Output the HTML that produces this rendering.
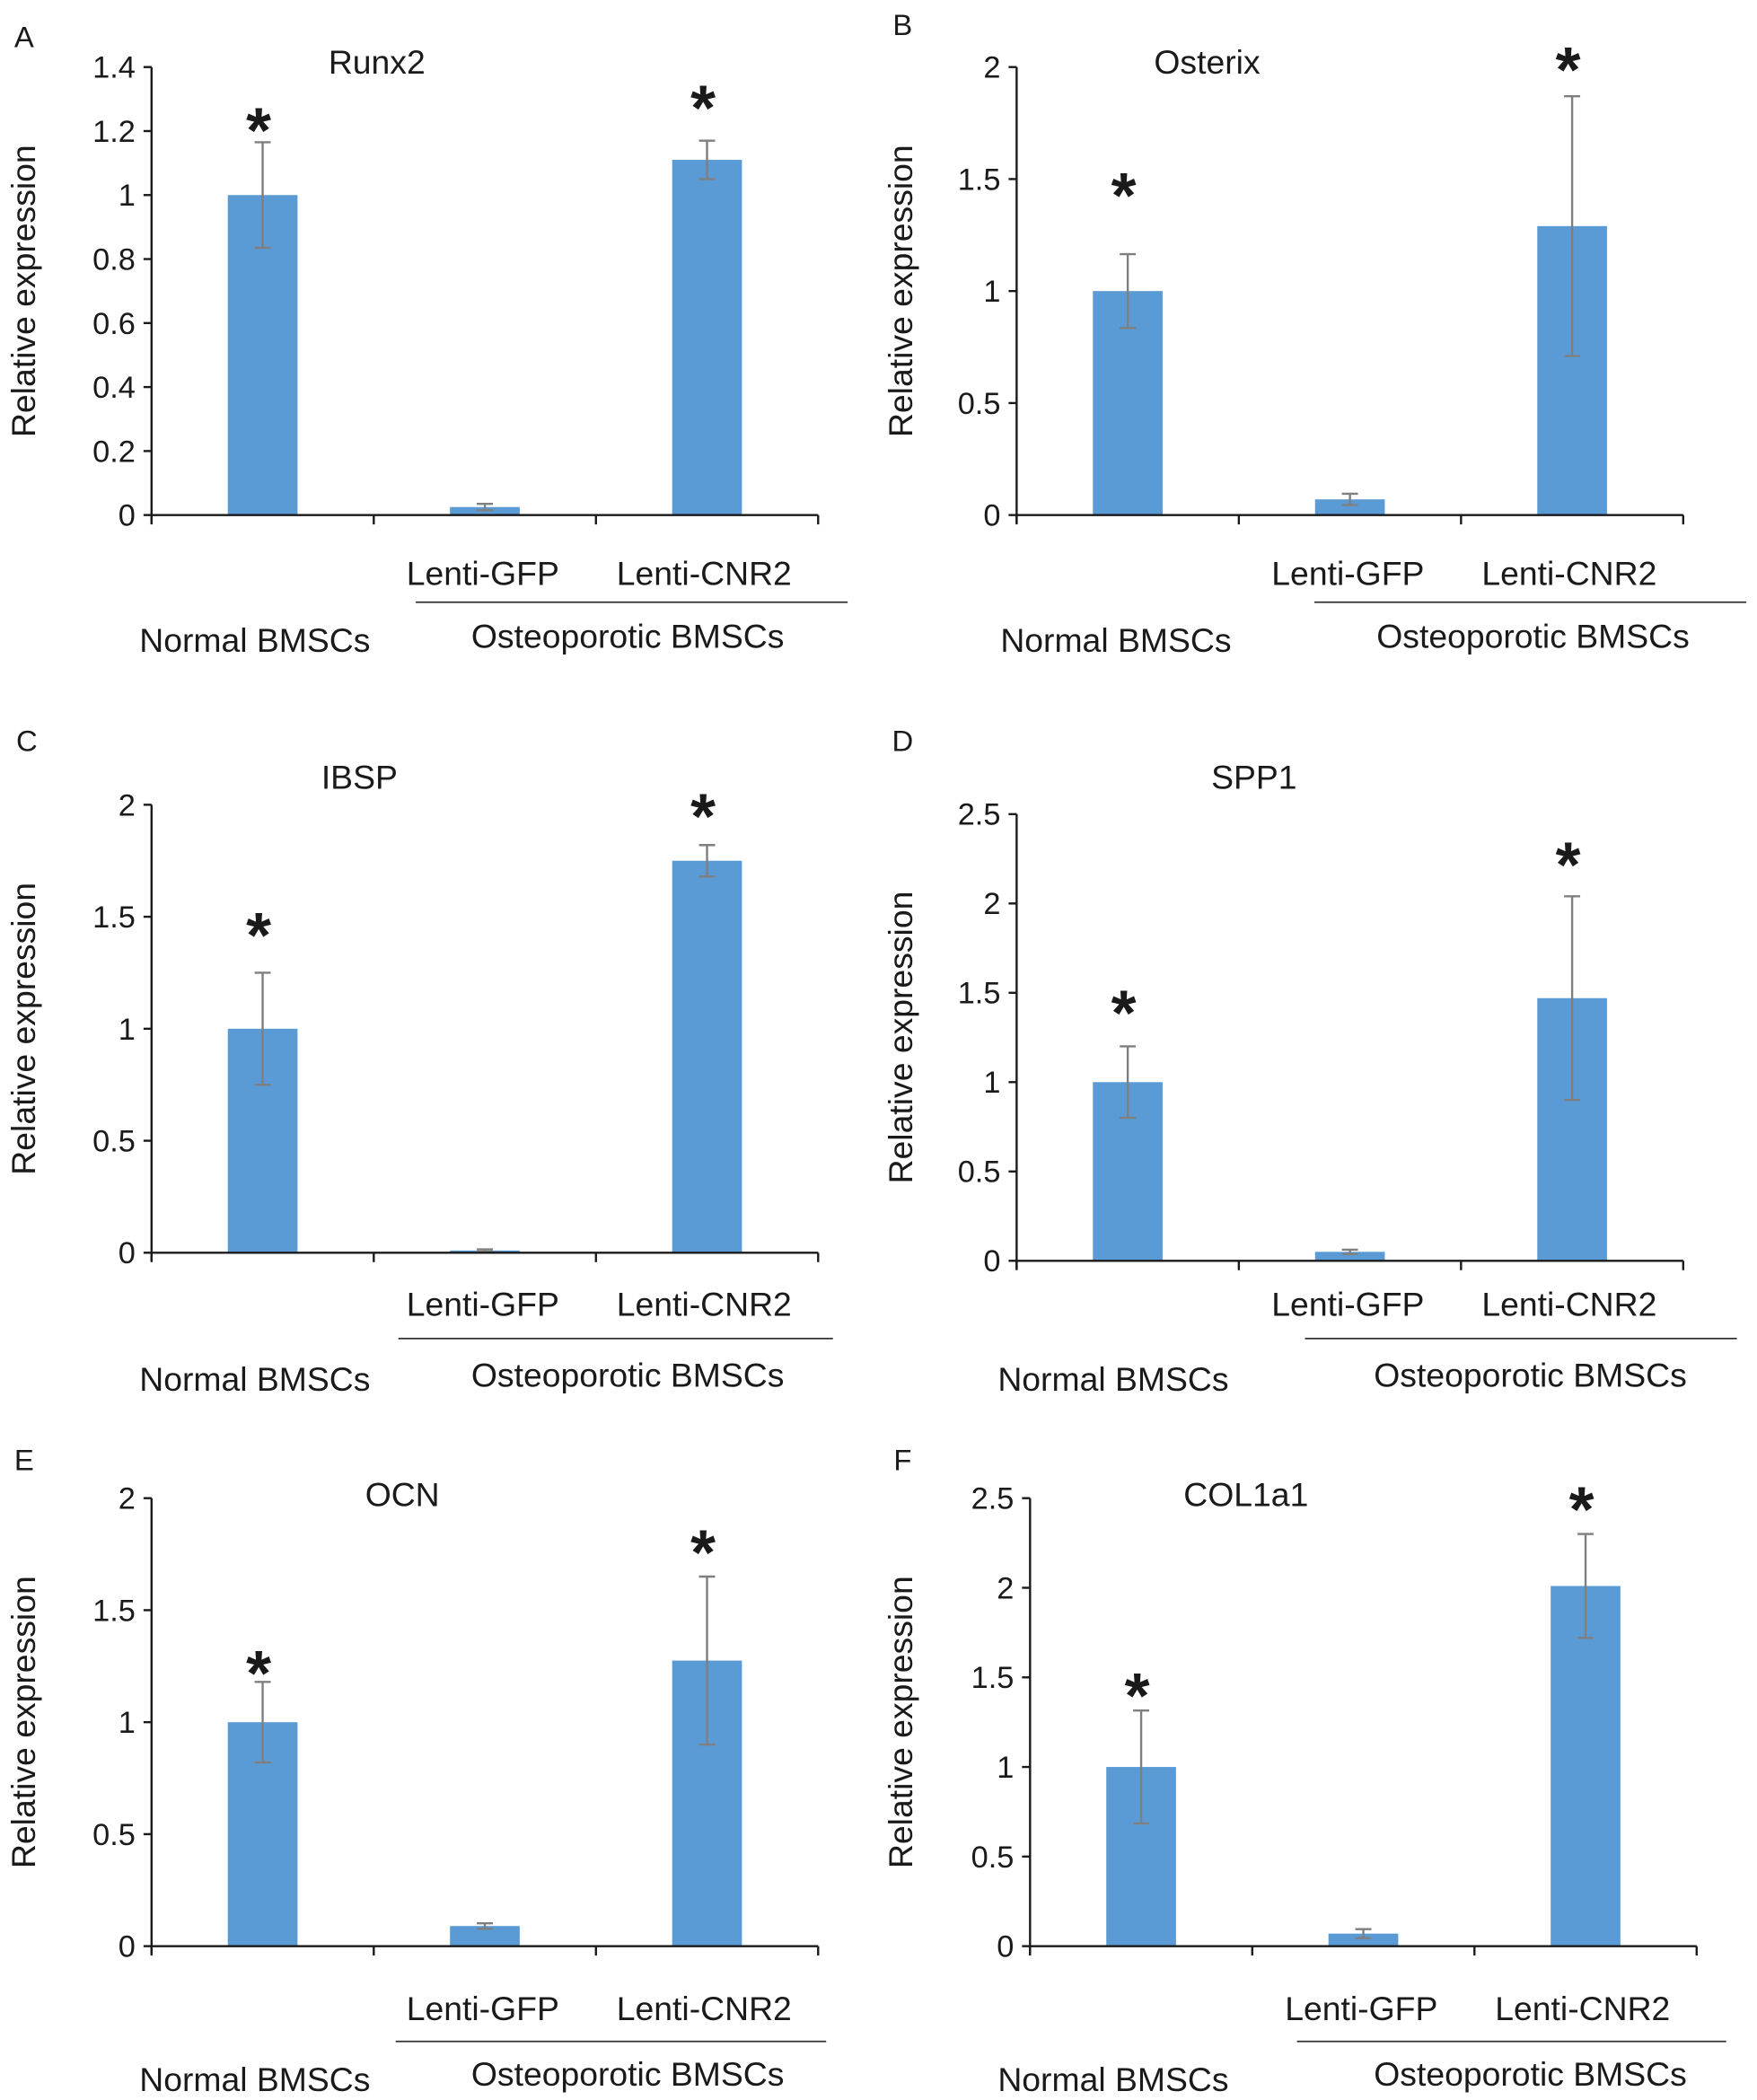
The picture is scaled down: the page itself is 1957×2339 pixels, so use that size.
<!DOCTYPE html>
<html><head><meta charset="utf-8">
<style>html,body{margin:0;padding:0;background:#fff}svg{display:block}text{font-family:"Liberation Sans",Arial,sans-serif;fill:#1a1a1a}</style>
</head><body>
<svg id="fig" xmlns="http://www.w3.org/2000/svg" width="1957" height="2339" viewBox="0 0 1310 1565.7"></svg>
<script>
const categories = ["Normal BMSCs", "Lenti-GFP", "Lenti-CNR2"];
const genes = ["Runx2", "Osterix", "IBSP", "SPP1", "OCN", "COL1a1"];
const panelLetters = ["A", "B", "C", "D", "E", "F"];
const meanRunx2 = [1.0, 0.025, 1.11];
const errRunx2 = [0.165, 0.01, 0.06];
const meanOsterix = [1.0, 0.07, 1.29];
const errOsterix = [0.165, 0.025, 0.58];
const meanIBSP = [1.0, 0.01, 1.75];
const errIBSP = [0.25, 0.005, 0.07];
const meanSPP1 = [1.0, 0.05, 1.47];
const errSPP1 = [0.2, 0.012, 0.57];
const meanOCN = [1.0, 0.09, 1.275];
const errOCN = [0.18, 0.012, 0.375];
const meanCOL = [1.0, 0.07, 2.01];
const errCOL = [0.315, 0.025, 0.29];
const yMaxes = [1.4, 2, 2, 2.5, 2, 2.5];
const yStepsA = ["0", "0.2", "0.4", "0.6", "0.8", "1", "1.2", "1.4"];
const yTicks2 = ["0", "0.5", "1", "1.5", "2"];
const yTicks25 = ["0", "0.5", "1", "1.5", "2", "2.5"];
const tickSets = [yStepsA, yTicks2, yTicks2, yTicks25, yTicks2, yTicks25];
const starValues = [[1.26, null, 1.33], [1.51, null, 2.07], [1.50, null, 2.03], [1.49, null, 2.32], [1.30, null, 1.84], [1.50, null, 2.54]];
const means = [meanRunx2, meanOsterix, meanIBSP, meanSPP1, meanOCN, meanCOL];
const errs = [errRunx2, errOsterix, errIBSP, errSPP1, errOCN, errCOL];

const layouts = [
 {x0:113,yTop:50,yZero:384,lx:18,ly:27,tx:281,ty:47,lenY:427,lineY:449,l1:310,l2:632,nx:190,ny:477,ox:468,oy:474,ylx:18},
 {x0:758,yTop:50,yZero:384,lx:673,ly:18,tx:900,ty:47,lenY:427,lineY:449,l1:980,l2:1302,nx:832,ny:477,ox:1143,oy:474,ylx:672},
 {x0:113,yTop:600,yZero:934,lx:20,ly:552,tx:268,ty:580,lenY:972,lineY:998,l1:297,l2:621,nx:190,ny:1028,ox:468,oy:1025,ylx:18},
 {x0:758,yTop:607,yZero:940,lx:673,ly:552,tx:935,ty:580,lenY:972,lineY:998,l1:973,l2:1295,nx:830,ny:1028,ox:1141,oy:1025,ylx:672},
 {x0:113,yTop:1117,yZero:1451,lx:18,ly:1088,tx:300,ty:1115,lenY:1497,lineY:1522,l1:295,l2:616,nx:190,ny:1550,ox:468,oy:1546,ylx:18},
 {x0:768,yTop:1117,yZero:1451,lx:673,ly:1088,tx:929,ty:1115,lenY:1497,lineY:1522,l1:967,l2:1287,nx:830,ny:1550,ox:1141,oy:1546,ylx:672}
];
const NS = "http://www.w3.org/2000/svg";
const svg = document.getElementById('fig');
function mk(tag, attrs, parent, txt) {
  const e = document.createElementNS(NS, tag);
  for (const k in attrs) e.setAttribute(k, attrs[k]);
  if (txt !== undefined) e.textContent = txt;
  parent.appendChild(e);
  return e;
}
layouts.forEach((L, p) => {
  const g = mk('g', {}, svg);
  
  
  const W = 497, cw = W / 3;
  const yMax = yMaxes[p];
  const y = v => L.yZero - v / yMax * (L.yZero - L.yTop);
  const x = i => L.x0 + cw * i + cw / 2;
  let t = mk('text', {x: L.lx, y: L.ly + 8, 'font-size': 22, 'text-anchor': 'middle'}, g, panelLetters[p]);
  
  
  t = mk('text', {x: L.tx, y: L.ty + 8, 'font-size': 25, 'text-anchor': 'middle'}, g, genes[p]);
  
  
  const cy = (L.yTop + L.yZero) / 2;
  t = mk('text', {x: L.ylx + 8, y: cy, 'font-size': 25, 'text-anchor': 'middle', transform: `rotate(-90 ${L.ylx + 8} ${cy})`}, g, 'Relative expression');
  
  
  means[p].forEach((m, i) => {
    const r = mk('rect', {x: x(i) - 26, y: y(m), width: 52, height: L.yZero - y(m), fill: '#5B9BD5'}, g);
    
    
    const e = errs[p][i];
    const eg = mk('g', {stroke: '#7f7f7f', 'stroke-width': 1.6}, g);
    
    
    mk('line', {x1: x(i), x2: x(i), y1: y(m + e), y2: y(Math.max(0, m - e))}, eg);
    mk('line', {x1: x(i) - 6, x2: x(i) + 6, y1: y(m + e), y2: y(m + e)}, eg);
    mk('line', {x1: x(i) - 6, x2: x(i) + 6, y1: y(Math.max(0, m - e)), y2: y(Math.max(0, m - e))}, eg);
    const s = starValues[p][i];
    if (s !== null) {
      const st = mk('text', {x: x(i) - 3, y: y(s) + 30, 'font-size': 48, 'font-weight': 'bold', 'text-anchor': 'middle'}, g, '*');
      
      
    }
  });
  const ax = mk('g', {stroke: '#1a1a1a', 'stroke-width': 1.6}, g);
  
  
  mk('line', {x1: L.x0, x2: L.x0, y1: L.yTop, y2: L.yZero + 6}, ax);
  mk('line', {x1: L.x0, x2: L.x0 + W, y1: L.yZero, y2: L.yZero}, ax);
  for (let i = 0; i <= 3; i++) mk('line', {x1: L.x0 + cw * i, x2: L.x0 + cw * i, y1: L.yZero, y2: L.yZero + 7}, ax);
  tickSets[p].forEach(lbl => {
    const v = parseFloat(lbl);
    mk('line', {x1: L.x0 - 6, x2: L.x0, y1: y(v), y2: y(v)}, ax);
    const tl = mk('text', {x: L.x0 - 12, y: y(v) + 8, 'font-size': 23, 'text-anchor': 'end', stroke: 'none'}, g, lbl);
    
    
  });
  [1, 2].forEach(i => {
    const c = mk('text', {x: L.x0 + (i === 1 ? 247 : 412), y: L.lenY + 9, 'font-size': 25, 'text-anchor': 'middle'}, g, categories[i]);
    
    
  });
  const ln = mk('line', {x1: L.l1, x2: L.l2, y1: L.lineY, y2: L.lineY, stroke: '#333', 'stroke-width': 1.2}, g);
  
  
  t = mk('text', {x: L.nx, y: L.ny + 9, 'font-size': 25, 'text-anchor': 'middle'}, g, categories[0]);
  
  
  t = mk('text', {x: L.ox, y: L.oy + 9, 'font-size': 25, 'text-anchor': 'middle'}, g, 'Osteoporotic BMSCs');
  
  
});
</script>
</body></html>
